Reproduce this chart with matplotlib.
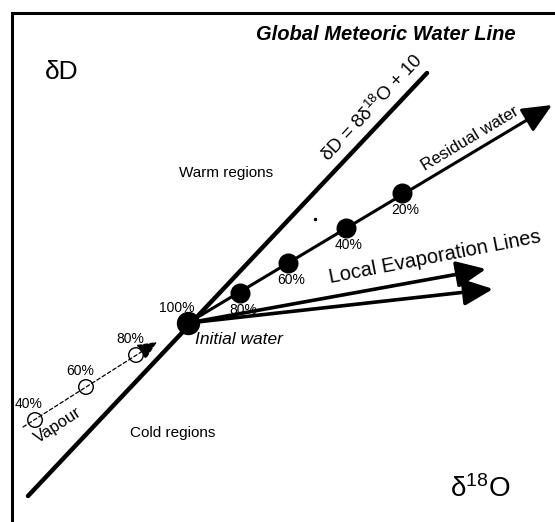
import matplotlib
matplotlib.use("Agg")
import matplotlib.pyplot as plt

plt.rcParams["font.family"] = ["Liberation Sans", "DejaVu Sans"]
plt.rcParams["mathtext.fontset"] = "custom"
plt.rcParams["mathtext.rm"] = "Liberation Sans"
plt.rcParams["mathtext.it"] = "Liberation Sans:italic"

# diagram geometry, in picture pixels (x right, y down)
GMWL_X = [28, 427]
GMWL_Y = [496, 73]
INITIAL_XY = (188, 323)

RESIDUAL_X = [240, 288, 346, 402]
RESIDUAL_Y = [293, 263, 228, 193]
RESIDUAL_LABELS = ["80%", "60%", "40%", "20%"]
RESIDUAL_TIP = (552, 105)

EVAP_TIP_X = [486, 493]
EVAP_TIP_Y = [269, 289]

VAPOUR_X = [35, 86, 136]
VAPOUR_Y = [420, 387, 355]
VAPOUR_LABELS = ["40%", "60%", "80%"]
VAPOUR_START = (23, 427)
VAPOUR_TIP = (157, 342)

fig = plt.figure(figsize=(5.55, 5.22), dpi=100)
ax = fig.add_axes([0, 0, 1, 1])
ax.set_xlim(0, 555)
ax.set_ylim(522, 0)
ax.axis("off")

# frame (only top and left survive in the scan)
ax.plot([12, 12, 555], [522, 13, 13], color="black", lw=2.2, solid_joinstyle="miter")

# global meteoric water line
ax.plot(GMWL_X, GMWL_Y, color="black", lw=3.2, solid_capstyle="round")

# residual water path
ax.annotate("", xy=RESIDUAL_TIP, xytext=INITIAL_XY,
            arrowprops=dict(arrowstyle="-|>,head_length=1.0,head_width=0.45",
                            lw=2.2, color="black", mutation_scale=18,
                            shrinkA=0, shrinkB=0))
ax.scatter(RESIDUAL_X, RESIDUAL_Y, s=180, color="black", zorder=3)
for x, y, lab in zip(RESIDUAL_X, RESIDUAL_Y, RESIDUAL_LABELS):
    ax.text(x + 3, y + 17, lab, fontsize=10, ha="center", va="center")

# local evaporation lines
for tx, ty in zip(EVAP_TIP_X, EVAP_TIP_Y):
    ax.annotate("", xy=(tx, ty), xytext=INITIAL_XY,
                arrowprops=dict(arrowstyle="-|>,head_length=1.0,head_width=0.45",
                                lw=2.6, color="black", mutation_scale=18,
                                shrinkA=0, shrinkB=0))

# initial water
ax.scatter([INITIAL_XY[0]], [INITIAL_XY[1]], s=250, color="black", zorder=4)

# vapour
ax.annotate("", xy=VAPOUR_TIP, xytext=VAPOUR_START,
            arrowprops=dict(arrowstyle="-|>,head_length=1.0,head_width=0.45",
                            lw=0.9, ls=(0, (3, 2)), color="black",
                            mutation_scale=12, shrinkA=0, shrinkB=0))
ax.scatter(VAPOUR_X, VAPOUR_Y, s=110, facecolors="none", edgecolors="black",
           linewidths=1.0, zorder=3)
for x, y, lab in zip(VAPOUR_X, VAPOUR_Y, VAPOUR_LABELS):
    ax.text(x - 6, y - 16, lab, fontsize=10, ha="center", va="center")

# stray speck in the scan
ax.plot([315], [219], marker="o", ms=1.5, color="black")

# texts
ax.text(62, 72, "δD", fontsize=19, ha="center", va="center")
ax.text(480, 489, r"δ$^{18}$O", fontsize=20, ha="center", va="center")
ax.text(386, 34, "Global Meteoric Water Line", fontsize=14.5,
        fontweight="bold", fontstyle="italic", ha="center", va="center")
ax.text(372, 108, r"δD = 8δ$^{18}$O + 10", fontsize=13.5, rotation=46.7,
        rotation_mode="anchor", ha="center", va="center")
ax.text(470, 139, "Residual water", fontsize=12, rotation=31,
        rotation_mode="anchor", ha="center", va="center")
ax.text(435, 257, "Local Evaporation Lines", fontsize=14.5, rotation=11,
        rotation_mode="anchor", ha="center", va="center")
ax.text(226, 173, "Warm regions", fontsize=11, ha="center", va="center")
ax.text(173, 433, "Cold regions", fontsize=11, ha="center", va="center")
ax.text(177, 308, "100%", fontsize=10, ha="center", va="center")
ax.text(195, 340, "Initial water", fontsize=12.5, fontstyle="italic",
        ha="left", va="center")
ax.text(58, 425, "Vapour", fontsize=12, rotation=33,
        rotation_mode="anchor", ha="center", va="center")

fig.savefig("out.png", dpi=100)
